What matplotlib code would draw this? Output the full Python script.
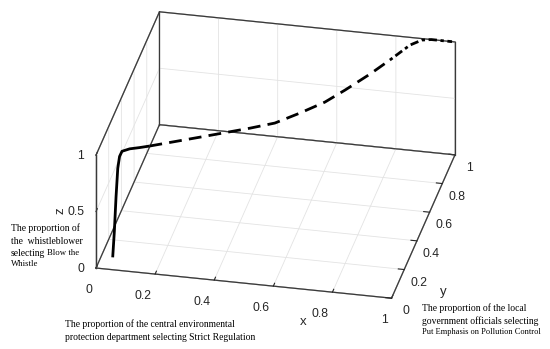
import numpy as np
import matplotlib
matplotlib.use("Agg")
import matplotlib.pyplot as plt
from mpl_toolkits.mplot3d import proj3d

# ---------------- data ----------------
# solid start: fast rise of z
x_solid = [0.050, 0.055, 0.060, 0.065, 0.070, 0.077, 0.100, 0.130, 0.160]
y_solid = [0.030, 0.033, 0.036, 0.040, 0.045, 0.051, 0.065, 0.080, 0.097]
z_solid = [0.070, 0.300, 0.600, 0.850, 0.950, 0.990, 1.000, 1.000, 1.000]
# dashed middle part
x_dash = [0.160, 0.311, 0.460, 0.533, 0.600, 0.665, 0.713, 0.771, 0.815]
y_dash = [0.097, 0.191, 0.285, 0.336, 0.420, 0.510, 0.604, 0.728, 0.835]
z_dash = [1.000, 1.000, 1.000, 1.000, 1.000, 1.000, 1.000, 1.000, 1.000]
# dotted end, converging to (1,1,1)
x_dot = [0.815, 0.859, 0.890, 0.920, 0.950, 0.990]
y_dot = [0.835, 0.949, 0.990, 1.000, 1.000, 1.000]
z_dot = [1.000, 1.000, 1.000, 1.000, 1.000, 1.000]

ticks_xy = [0, 0.2, 0.4, 0.6, 0.8, 1]
tick_labels_xy = ["0", "0.2", "0.4", "0.6", "0.8", "1"]
ticks_z = [0, 0.5, 1]
tick_labels_z = ["0", "0.5", "1"]

W, H = 550, 349
plt.rcParams["grid.color"] = "#e3e3e3"
plt.rcParams["grid.linewidth"] = 0.6
plt.rcParams["font.family"] = ["Liberation Sans", "DejaVu Sans"]

fig = plt.figure(figsize=(W / 100, H / 100), dpi=100)
ax = fig.add_axes([0.1, 0.1, 0.8, 0.8], projection="3d", proj_type="ortho")
ax.view_init(elev=28.7, azim=-78)
ax.set_box_aspect((1, 1.01, 0.426))
ax.set_xlim(0, 1)
ax.set_ylim(0, 1)
ax.set_zlim(0, 1)

ax.set_xticks(ticks_xy)
ax.set_xticklabels(tick_labels_xy)
ax.set_yticks(ticks_xy)
ax.set_yticklabels(tick_labels_xy)
ax.set_zticks(ticks_z)
ax.set_zticklabels(tick_labels_z)
ax.zaxis.set_ticks_position("lower")
ax.zaxis.set_label_position("lower")

edge = "#3a3a3a"
for axis in (ax.xaxis, ax.yaxis, ax.zaxis):
    axis.pane.set_facecolor((1, 1, 1, 0))
    axis.pane.set_edgecolor(edge)
    axis.pane.set_linewidth(0.9)
    axis.line.set_color(edge)
    axis.line.set_linewidth(0.9)
    axis._axinfo["tick"]["inward_factor"] = 0.0
    axis._axinfo["tick"]["outward_factor"] = 0.25
    axis._axinfo["tick"]["linewidth"] = {True: 0.8, False: 0.5}
ax.tick_params(axis="x", colors="#262626", labelsize=8.8, pad=2.2)
ax.tick_params(axis="y", colors="#262626", labelsize=8.8, pad=0)
ax.tick_params(axis="z", colors="#262626", labelsize=8.8, pad=-2.7)

# box outline of the back walls (drawn above the grid lines at the limits)
x0, x1 = ax.get_xlim()
y0, y1 = ax.get_ylim()
z0, z1 = ax.get_zlim()
box_edges = [
    ([x0, x0], [y1, y1], [z0, z1]),
    ([x1, x1], [y1, y1], [z0, z1]),
    ([x0, x0], [y0, y0], [z0, z1]),
    ([x0, x0], [y0, y1], [z1, z1]),
    ([x0, x1], [y1, y1], [z1, z1]),
    ([x0, x0], [y0, y1], [z0, z0]),
    ([x0, x1], [y1, y1], [z0, z0]),
]
for ex, ey, ez in box_edges:
    ax.plot(ex, ey, ez, color=edge, lw=0.9)

lw = 2.0
ax.plot(x_solid, y_solid, z_solid, color="black", lw=lw, solid_capstyle="butt")
ax.plot(x_dash, y_dash, z_dash, color="black", lw=lw, linestyle=(0, (4.6, 2.6)))
ax.plot(x_dot, y_dot, z_dot, color="black", lw=lw, linestyle=(0, (1.2, 1.3, 3, 1.3)))

# ---- fit axes so that the box lands where the reference has it ----
targets = np.array([[96, H - 268], [455, H - 42]], float)
for _ in range(3):
    fig.canvas.draw()
    M = ax.get_proj()
    pts = []
    for p in [(0, 0, 0), (1, 1, 1)]:
        xs, ys, _ = proj3d.proj_transform(*p, M)
        pts.append(ax.transData.transform((xs, ys)))
    pts = np.array(pts)
    bb = ax.get_position().transformed(fig.transFigure)
    c = np.array([(bb.x0 + bb.x1) / 2, (bb.y0 + bb.y1) / 2])
    s = bb.width
    u = (pts - c) / s
    du = u[1] - u[0]
    dt = targets[1] - targets[0]
    s_new = float(np.dot(du, dt) / np.dot(du, du))
    c_new = (targets - s_new * u).mean(axis=0)
    ax.set_position([(c_new[0] - s_new / 2) / W, (c_new[1] - s_new / 2) / H,
                     s_new / W, s_new / H])

# tick label alignment (kept by the reused tick objects)
fig.canvas.draw()
for t in ax.zaxis.get_major_ticks():
    t.label1.set_verticalalignment("baseline")
    t.label1.set_horizontalalignment("right")
for t in ax.xaxis.get_major_ticks():
    t.label1.set_horizontalalignment("right")

# ---- labels ----
lab = "#262626"
fig.text(303 / W, 1 - 322 / H, "x", fontsize=9.5, ha="center", va="center", color=lab)
fig.text(443 / W, 1 - 292 / H, "y", fontsize=9.5, ha="center", va="center", color=lab)
fig.text(60 / W, 1 - 211 / H, "z", fontsize=9.5, ha="center", va="center", rotation=90, color=lab)

serif = ["Liberation Serif", "DejaVu Serif"]
fig.text(11 / W, 1 - 228 / H, "The proportion of", family=serif, fontsize=6.9, ha="left", va="center")
fig.text(11 / W, 1 - 241 / H, "the  whistleblower", family=serif, fontsize=6.9, ha="left", va="center")
fig.text(11 / W, 1 - 253 / H, "selecting", family=serif, fontsize=6.9, ha="left", va="center")
fig.text(47 / W, 1 - 253 / H, "Blow the", family=serif, fontsize=6.3, ha="left", va="center")
fig.text(11 / W, 1 - 264 / H, "Whistle", family=serif, fontsize=6.3, ha="left", va="center")

fig.text(65 / W, 1 - 324 / H, "The proportion of the central environmental",
         family=serif, fontsize=6.9, ha="left", va="center")
fig.text(65 / W, 1 - 337 / H, "protection department selecting Strict Regulation",
         family=serif, fontsize=6.9, ha="left", va="center")

fig.text(422 / W, 1 - 308 / H, "The proportion of the local",
         family=serif, fontsize=6.9, ha="left", va="center")
fig.text(422 / W, 1 - 321 / H, "government officials selecting",
         family=serif, fontsize=6.9, ha="left", va="center")
fig.text(422 / W, 1 - 332 / H, "Put Emphasis on Pollution Control",
         family=serif, fontsize=6.0, ha="left", va="center")

fig.savefig("out.png", dpi=100)
